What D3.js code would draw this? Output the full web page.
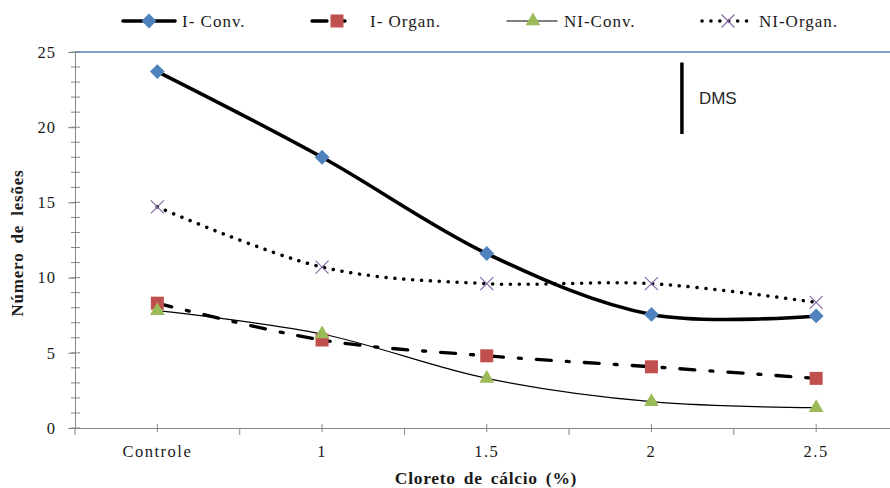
<!DOCTYPE html>
<html>
<head>
<meta charset="utf-8">
<script src="https://cdn.jsdelivr.net/npm/d3@7"></script>
<style>
  body { margin: 0; background: #fff; }
  svg { display: block; }
  text { font-family: "Liberation Serif", "Times New Roman", serif; fill: #1a1a1a; }
</style>
</head>
<body>
<svg id="chart" width="890" height="488"></svg>
<script>
// data
var categories = ["Controle", "1", "1.5", "2", "2.5"];
var iConv   = [23.7, 18.0, 11.6, 7.55, 7.45];
var iOrgan  = [8.3, 5.85, 4.8, 4.07, 3.3];
var niConv  = [7.8, 6.25, 3.3, 1.75, 1.35];
var niOrgan = [14.7, 10.7, 9.6, 9.6, 8.35];
var yTicks = [0, 5, 10, 15, 20, 25];
var dmsTop = 24.3, dmsValue = 4.75;

var svg = d3.select('#chart');
var plotLeft = 75, plotTop = 52, plotBottom = 428, plotRight = 898.5;

var x = d3.scaleBand().domain(categories).range([plotLeft, plotRight]).padding(0);
var y = d3.scaleLinear().domain([0, 25]).range([plotBottom, plotTop]);
var cx = function(c){ return x(c) + x.bandwidth() / 2; };

// gridline at top
svg.append('line')
	.attr("x1", plotLeft).attr("x2", 890)
	.attr("y1", y(25)).attr("y2", y(25))
	.style("stroke", "#7fa1cc").style("stroke-width", 2);

// y axis
var yAxis = svg.append('g')
	.attr("transform", "translate(" + plotLeft + ",0)")
	.call(d3.axisLeft(y).tickValues(yTicks).tickSize(7).tickPadding(12));
yAxis.select('.domain').style("stroke", "#868686");
yAxis.selectAll('.tick line').style("stroke", "#868686");
yAxis.selectAll('.tick text').style("font-size", "16.5px").style("letter-spacing", "1px")
	.style("font-family", "Liberation Serif").attr("fill", "#1a1a1a");

svg.append('g').selectAll('line').data(d3.range(0, 26, 1)).enter().append('line')
	.attr("x1", plotLeft - 4).attr("x2", plotLeft + 5)
	.attr("y1", function(d){ return y(d); }).attr("y2", function(d){ return y(d); })
	.style("stroke", "#868686");

// x axis
var xAxis = svg.append('g')
	.attr("transform", "translate(0," + plotBottom + ")")
	.call(d3.axisBottom(x).tickSize(0).tickPadding(17));
xAxis.select('.domain').style("stroke", "#868686");
xAxis.selectAll('.tick text').style("font-size", "16.5px").style("letter-spacing", "1.5px")
	.style("font-family", "Liberation Serif").attr("fill", "#1a1a1a");

var bounds = categories.map(function(c){ return x(c); });
svg.append('g').selectAll('line').data(bounds).enter().append('line')
	.attr("x1", function(d){ return d; }).attr("x2", function(d){ return d; })
	.attr("y1", plotBottom).attr("y2", plotBottom + 7)
	.style("stroke", "#868686");
svg.append('g').selectAll('line').data(categories).enter().append('line')
	.attr("x1", function(d){ return cx(d); }).attr("x2", function(d){ return cx(d); })
	.attr("y1", plotBottom - 4).attr("y2", plotBottom + 4)
	.style("stroke", "#868686");

// axis titles
svg.append('text')
	.attr("x", 486).attr("y", 484)
	.attr("text-anchor", "middle")
	.style("font-size", "17.5px").style("font-weight", "bold")
	.style("letter-spacing", "0.7px").style("word-spacing", "3px")
	.text("Cloreto de cálcio (%)");
svg.append('text')
	.attr("transform", "translate(23,243) rotate(-90)")
	.attr("text-anchor", "middle")
	.style("font-size", "17px").style("font-weight", "bold")
	.style("letter-spacing", "0.8px").style("word-spacing", "4px")
	.text("Número de lesões");

// series
var series = [
	{ name: "I- Conv.", values: iConv, width: 3.6, dash: null, marker: "diamond", color: "#4f81bd" },
	{ name: "I- Organ.", values: iOrgan, width: 3.3, dash: "15,15,3,15", marker: "square", color: "#c0504d" },
	{ name: "NI-Conv.", values: niConv, width: 1.2, dash: null, marker: "triangle", color: "#9bbb59" },
	{ name: "NI-Organ.", values: niOrgan, width: 3.5, dash: "0.1,8.8", marker: "x", color: "#8064a2" }
];

var line = d3.line()
	.x(function(d, i){ return cx(categories[i]); })
	.y(function(d){ return y(d); })
	.curve(d3.curveCardinal.tension(0));

function drawMarker(g, type, color, px, py){
	if(type === "diamond"){
		g.append('path').attr("d", d3.symbol().type(d3.symbolSquare).size(110)())
			.attr("transform", "translate(" + px + "," + py + ") rotate(45)")
			.style("fill", color);
	} else if(type === "square"){
		g.append('rect').attr("x", px - 6.5).attr("y", py - 6.5)
			.attr("width", 13).attr("height", 13).style("fill", color);
	} else if(type === "triangle"){
		g.append('path').attr("d", d3.symbol().type(d3.symbolTriangle).size(95)())
			.attr("transform", "translate(" + px + "," + py + ")")
			.style("fill", color);
	} else {
		g.append('path').attr("d", "M-6.5,-6.5L6.5,6.5M-6.5,6.5L6.5,-6.5")
			.attr("transform", "translate(" + px + "," + py + ")")
			.style("stroke", color).style("stroke-width", 1.1).style("fill", "none");
	}
}

for(var k = 0; k < series.length; k++){
	var s = series[k];
	var p = svg.append('path').datum(s.values)
		.attr("d", line)
		.style("fill", "none").style("stroke", "#000")
		.style("stroke-width", s.width);
	if(s.dash){ p.style("stroke-dasharray", s.dash).style("stroke-linecap", "round"); }
}
for(var k = 0; k < series.length; k++){
	var s = series[k];
	var g = svg.append('g');
	for(var i = 0; i < s.values.length; i++){
		drawMarker(g, s.marker, s.color, cx(categories[i]), y(s.values[i]));
	}
}

// legend
var legX = [123, 312, 507, 702];
var legLen = [52, 40, 50, 50];
for(var k = 0; k < series.length; k++){
	var s = series[k];
	var lg = svg.append('g');
	var l = lg.append('line')
		.attr("x1", legX[k]).attr("x2", legX[k] + legLen[k])
		.attr("y1", 21).attr("y2", 21)
		.style("stroke", "#000").style("stroke-width", s.width);
	if(s.dash){ l.style("stroke-dasharray", s.dash).style("stroke-linecap", "round"); }
	else { l.style("stroke-linecap", "round"); }
	var mx = k === 1 ? legX[k] + 25 : legX[k] + 26;
	drawMarker(lg, s.marker, s.color, mx, 21);
	lg.append('text')
		.attr("x", k === 1 ? 370 : legX[k] + legLen[k] + 7)
		.attr("y", 27)
		.style("font-size", "17px").style("letter-spacing", "1px")
		.text(s.name);
}

// DMS bar
var dmsX = cx("2") + x.bandwidth() * 0.185;
svg.append('line')
	.attr("x1", dmsX).attr("x2", dmsX)
	.attr("y1", y(dmsTop)).attr("y2", y(dmsTop - dmsValue))
	.style("stroke", "#000").style("stroke-width", 3.5);
svg.append('text')
	.attr("x", dmsX + 17).attr("y", 104)
	.style("font-family", "Liberation Sans, Arial, sans-serif")
	.style("font-size", "17px").style("fill", "#262626")
	.text("DMS");
</script>
</body>
</html>
